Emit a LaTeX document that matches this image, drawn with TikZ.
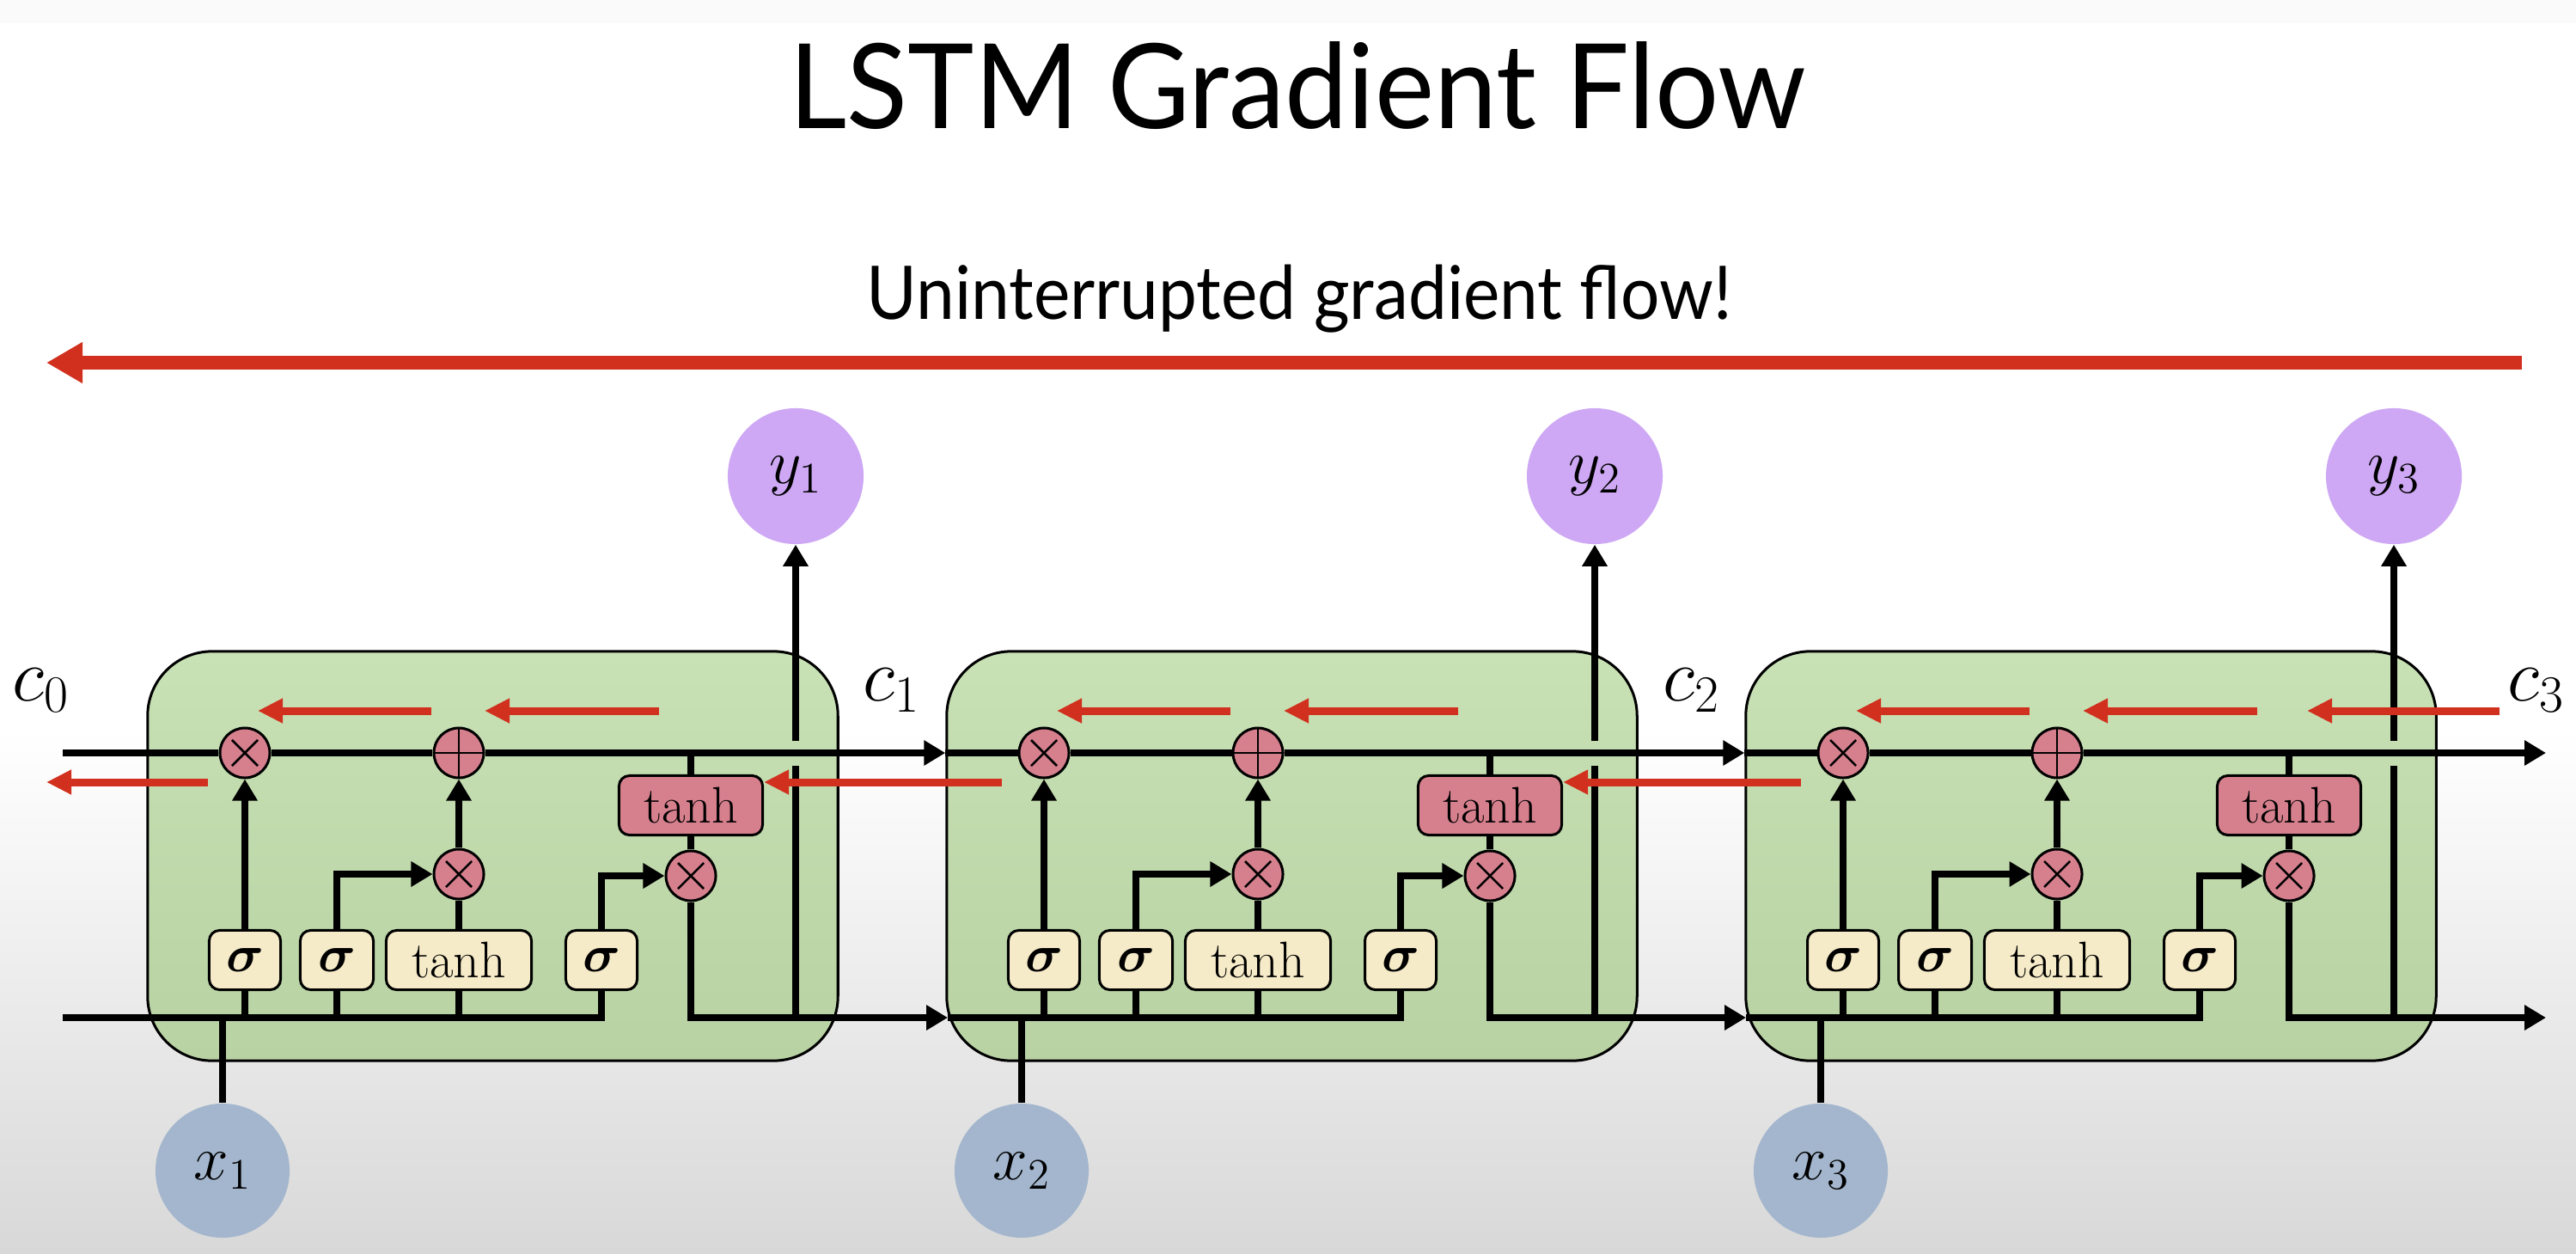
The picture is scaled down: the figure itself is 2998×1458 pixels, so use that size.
\documentclass[tikz,border=0pt]{standalone}
\usepackage{fontspec}
\usepackage{bm}
\usetikzlibrary{arrows.meta,calc}
\newfontfamily\titlefont[FakeStretch=0.955]{Lato}
\newfontfamily\subfont[FakeStretch=0.93]{Lato}
\definecolor{gtop}{RGB}{200,225,181}
\definecolor{gbot}{RGB}{184,210,163}
\definecolor{opink}{RGB}{214,128,142}
\definecolor{gyellow}{RGB}{246,235,200}
\definecolor{ypurple}{RGB}{206,168,244}
\definecolor{xblue}{RGB}{163,182,205}
\definecolor{gred}{RGB}{210,48,30}
\definecolor{bggray}{RGB}{216,216,216}
\begin{document}
\begin{tikzpicture}[x=0.01cm,y=-0.01cm,
  blk/.style={line width=0.08cm, draw=black},
  arr/.style={-{Triangle[length=0.25cm,width=0.28cm]}},
  redarr/.style={draw=gred, line width=0.09cm, -{Triangle[length=0.29cm,width=0.27cm]}},
  cellbox/.style={draw=black, line width=0.03cm, top color=gtop, bottom color=gbot, rounded corners=0.75cm, minimum width=8.03cm, minimum height=4.76cm, inner sep=0pt},
  op/.style={circle, draw=black, line width=0.03cm, fill=opink, minimum size=0.58cm, inner sep=0pt},
  timesop/.style={op, path picture={\draw[line width=0.025cm] ([shift={(-0.15cm,-0.15cm)}]path picture bounding box.center) -- ([shift={(0.15cm,0.15cm)}]path picture bounding box.center) ([shift={(-0.15cm,0.15cm)}]path picture bounding box.center) -- ([shift={(0.15cm,-0.15cm)}]path picture bounding box.center);}},
  plusop/.style={op, path picture={\draw[line width=0.025cm] (path picture bounding box.north) -- (path picture bounding box.south) (path picture bounding box.west) -- (path picture bounding box.east);}},
  gate/.style={draw=black, line width=0.03cm, fill=gyellow, rounded corners=0.12cm, minimum height=0.69cm, inner sep=0pt, font=\fontsize{17}{20}\selectfont},
  sig/.style={gate, minimum width=0.83cm},
  ycirc/.style={circle, fill=ypurple, minimum size=1.58cm, inner sep=0pt, font=\fontsize{22}{25}\selectfont},
  xcirc/.style={circle, fill=xblue, minimum size=1.56cm, inner sep=0pt, font=\fontsize{22}{25}\selectfont},
  clab/.style={inner sep=0pt, font=\fontsize{24}{28}\selectfont}
]
\useasboundingbox (0,0) rectangle (2998,1458);
\fill[white] (0,0) rectangle (2998,1458);
\fill[black!2] (0,0) rectangle (2998,27);
\shade[top color=white, bottom color=bggray] (0,850) rectangle (2998,1458);

% titles
\node[anchor=base, inner sep=0pt, font=\titlefont\fontsize{39}{44}\selectfont] (title) at (1510,150) {LSTM Gradient Flow};
\node[anchor=base, inner sep=0pt, font=\subfont\fontsize{24.5}{28}\selectfont] (sub) at (1512,372) {Uninterrupted gradient flow!};
\coordinate (T1) at (2935,422);
\coordinate (T0) at (54,422);
\draw[draw=gred, line width=0.15cm, -{Triangle[length=0.42cm,width=0.45cm]}] (T1) -- (T0);

% nodes
\foreach \k in {1,2,3}{
  \pgfmathsetmacro{\o}{930*(\k-1)}
  \node[cellbox] (cell\k) at (573.5+\o,996) {};
}
\foreach \k in {1,2,3}{
  \pgfmathsetmacro{\o}{930*(\k-1)}
  \node[timesop] (fx\k) at (285+\o,876) {};
  \node[plusop] (pl\k) at (534+\o,876) {};
  \node[timesop] (ix\k) at (534+\o,1017) {};
  \node[timesop] (ox\k) at (804+\o,1019) {};
  \node[gate, fill=opink, minimum width=1.67cm] (th\k) at (804+\o,937) {tanh};
  \node[sig] (sa\k) at (285+\o,1117) {\fontsize{19}{22}\selectfont$\bm{\sigma}$};
  \node[sig, minimum width=0.85cm] (sb\k) at (392+\o,1117) {\fontsize{19}{22}\selectfont$\bm{\sigma}$};
  \node[gate, minimum width=1.69cm] (tt\k) at (534+\o,1117) {tanh};
  \node[sig] (sc\k) at (700+\o,1117) {\fontsize{19}{22}\selectfont$\bm{\sigma}$};
  \node[xcirc] (x\k) at (259+\o,1362) {$x_{\k}$};
  \node[ycirc] (y\k) at (926+\o,554) {$y_{\k}$};
  \coordinate (gt\k) at (926+\o,862);
  \coordinate (gb\k) at (926+\o,891);
}
\coordinate (U01) at (73,876);
\coordinate (L01) at (73,1184);
\coordinate (U02) at (cell2.west |- fx2);
\coordinate (L02) at (1103,1184);
\coordinate (U03) at (cell3.west |- fx3);
\coordinate (L03) at (2032,1184);
\coordinate (Ue1) at (cell2.west |- fx1);
\coordinate (Le1) at (L02);
\coordinate (Ue2) at (cell3.west |- fx2);
\coordinate (Le2) at (L03);
\coordinate (Ue3) at (2963,876);
\coordinate (Le3) at (2963,1184);

% black connectors
\foreach \k in {1,2,3}{
  \draw[blk] (U0\k) -- (fx\k.west);
  \draw[blk] (fx\k.east) -- (pl\k.west);
  \draw[blk,arr] (pl\k.east) -- (Ue\k);
  \draw[blk,arr] (sa\k.north) -- (fx\k.south);
  \draw[blk,arr] (sb\k.north) |- (ix\k.west);
  \draw[blk] (tt\k.north) -- (ix\k.south);
  \draw[blk,arr] (ix\k.north) -- (pl\k.south);
  \draw[blk,arr] (sc\k.north) |- (ox\k.west);
  \draw[blk] (th\k.north) -- (th\k.north |- pl\k);
  \draw[blk] (ox\k.north) -- (th\k.south);
  \draw[blk,arr] (ox\k.south) |- (Le\k);
  \draw[blk] (L0\k) -| (sc\k.south);
  \draw[blk] (sa\k.south) -- (sa\k.south |- L0\k);
  \draw[blk] (sb\k.south) -- (sb\k.south |- L0\k);
  \draw[blk] (tt\k.south) -- (tt\k.south |- L0\k);
  \draw[blk] (x\k.north) -- (x\k.north |- L0\k);
  \draw[blk] (gb\k |- L0\k) -- (gb\k);
  \draw[blk,arr] (gt\k) -- (gt\k |- y\k.south);
}

% red gradient arrows
\foreach \k in {1,2,3}{
  \pgfmathsetmacro{\o}{930*(\k-1)}
  \coordinate (ra\k) at (502+\o,827);
  \coordinate (rb\k) at (300+\o,827);
  \coordinate (rc\k) at (767+\o,827);
  \coordinate (rd\k) at (564+\o,827);
  \draw[redarr] (ra\k) -- (rb\k);
  \draw[redarr] (rc\k) -- (rd\k);
}
\coordinate (re3) at (2909,827);
\coordinate (rf3) at (2685,827);
\draw[redarr] (re3) -- (rf3);
\coordinate (rl1) at (242,910);
\coordinate (rl0) at (54,910);
\draw[redarr] (rl1) -- (rl0);
\coordinate (rl2) at (1166,910);
\draw[redarr] (rl2) -- (th1.east |- rl2);
\coordinate (rl3) at (2096,910);
\draw[redarr] (rl3) -- (th2.east |- rl3);

% cell state labels
\node[clab] (c0) at (48,803) {$c_0$};
\node[clab] (c1) at (1038,803) {$c_1$};
\node[clab] (c2) at (1969,803) {$c_2$};
\node[clab] (c3) at (2952,803) {$c_3$};
\end{tikzpicture}
\end{document}
